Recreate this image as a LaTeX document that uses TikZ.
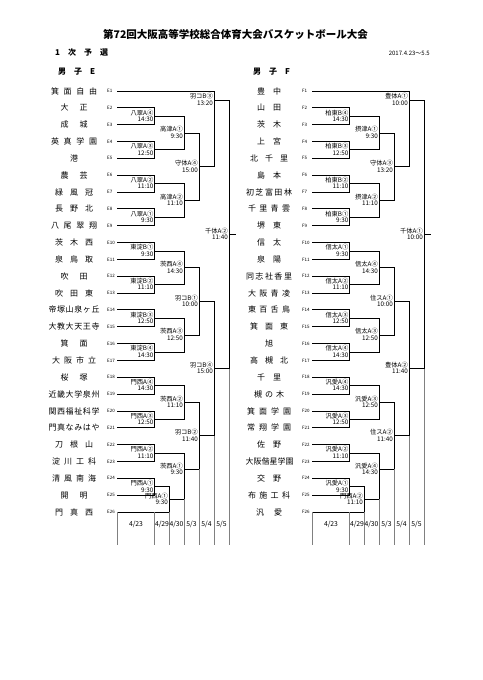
\documentclass[tikz,border=0pt]{standalone}
\usepackage{fontspec}
\setmainfont{Noto Sans CJK JP}
\usetikzlibrary{calc}
% spread the characters of a name over a fixed width
\def\spreadrest#1{\ifx#1\relax\else\hfil#1\expandafter\spreadrest\fi}
\def\spreadfirst#1{#1\spreadrest}
\newcommand\spread[2]{\makebox[#1][s]{\expandafter\spreadfirst#2\relax}}
\tikzset{
    team/.style={font=\fontsize{8}{9}\selectfont,inner sep=0pt},
    seed/.style={font=\fontsize{4.5}{5}\selectfont,inner sep=0pt,anchor=west},
    glabel/.style={font=\fontsize{6.3}{7}\selectfont,inner sep=0.5pt,anchor=south east},
    gtime/.style={font=\fontsize{6.3}{7}\selectfont,inner sep=0.5pt,anchor=north east},
    link/.style={line width=0.9pt},
    guide/.style={line width=0.6pt,black!50},
    day/.style={font=\fontsize{6.8}{7}\selectfont,inner sep=0pt},
    head/.style={font=\fontsize{8}{9}\selectfont\bfseries,inner sep=0pt,anchor=west}
}
% [out position]{in 1}{in 2}{column}{out}{venue}{time}
\newcommand\game[7][0.5]{%
    \draw[link] (#2) -- (#2 -| #4) -- (#3 -| #4) -- (#3);
    \coordinate (#5) at ($(#2 -| #4)!#1!(#3 -| #4)$);
    \node[glabel] (#5l) at ($(#5)+(-0.5,0)$) {#6};
    \node[gtime] (#5t) at ($(#5)+(-0.5,0)$) {#7};
}

\begin{document}
\begin{tikzpicture}[x=1pt,y=-1pt]
    \useasboundingbox (0,0) rectangle (482,680);
    \node[font=\fontsize{10.5}{12}\selectfont\bfseries,inner sep=0pt] (title) at (235.5,35) {第72回大阪高等学校総合体育大会バスケットボール大会};
    \node[head] (round) at (55,52) {1　次　予　選};
    \node[font=\fontsize{6}{7}\selectfont,inner sep=0pt,anchor=east] (period) at (430,53) {2017.4.23～5.5};
    \node[head] (groupE) at (58,72) {男　子　E};
    \node[head] (groupF) at (253,72) {男　子　F};

    % ---- group E
    \foreach \nm/\w [count=\i] in {箕面自由/46,大正/27,成城/27,英真学園/46,港/8,農芸/27,緑風冠/38,
        長野北/38,八尾翠翔/46,茨木西/38,泉鳥取/38,吹田/27,吹田東/38,帝塚山泉ヶ丘/51,大教大天王寺/51,
        箕面/27,大阪市立/44,桜塚/27,近畿大学泉州/51,関西福祉科学/51,門真なみはや/51,刀根山/38,
        淀川工科/44,清風南海/44,開明/27,門真西/38}{
        \pgfmathsetmacro\yy{91+(\i-1)*16.84}
        \node[team] (E\i n) at (74,\yy) {\spread{\w pt}{\nm}};
        \node[seed] (E\i s) at (107,\yy) {E\i};
        \coordinate (E\i) at (117,\yy);
    }
    \coordinate (Ec1) at (154.5,0);
    \coordinate (Ec2) at (169,0);
    \coordinate (Ec3) at (184,0);
    \coordinate (Ec4) at (199,0);
    \coordinate (Ec5) at (214,0);
    \coordinate (Ec6) at (229,0);
    \game{E2}{E3}{Ec1}{e23}{八翠A④}{14:30}
    \game{E4}{E5}{Ec1}{e45}{八翠A③}{12:50}
    \game{E6}{E7}{Ec1}{e67}{八翠A②}{11:10}
    \game{E8}{E9}{Ec1}{e89}{八翠A①}{9:30}
    \game{E10}{E11}{Ec1}{e1011}{東淀B①}{9:30}
    \game{E12}{E13}{Ec1}{e1213}{東淀B②}{11:10}
    \game{E14}{E15}{Ec1}{e1415}{東淀B③}{12:50}
    \game{E16}{E17}{Ec1}{e1617}{東淀B④}{14:30}
    \game{E18}{E19}{Ec1}{e1819}{門西A④}{14:30}
    \game{E20}{E21}{Ec1}{e2021}{門西A③}{12:50}
    \game{E22}{E23}{Ec1}{e2223}{門西A②}{11:10}
    \game{E24}{E25}{Ec1}{e2425}{門西A①}{9:30}
    \game{e2425}{E26}{Ec2}{e2426}{門西A①}{9:30}
    \game{e23}{e45}{Ec3}{e25}{高津A①}{9:30}
    \game{e67}{e89}{Ec3}{e69}{高津A②}{11:10}
    \game{e1011}{e1213}{Ec3}{e1013}{茨西A④}{14:30}
    \game{e1415}{e1617}{Ec3}{e1417}{茨西A③}{12:50}
    \game{e1819}{e2021}{Ec3}{e1821}{茨西A②}{11:10}
    \game[0.35]{e2223}{e2426}{Ec3}{e2226}{茨西A①}{9:30}
    \game{e25}{e69}{Ec4}{e29}{守体A④}{15:00}
    \game{e1013}{e1417}{Ec4}{e1017}{羽コB①}{10:00}
    \game{e1821}{e2226}{Ec4}{e1826}{羽コB②}{11:40}
    \game[0.12]{E1}{e29}{Ec5}{e19}{羽コB③}{13:20}
    \game{e1017}{e1826}{Ec5}{e1026}{羽コB④}{15:00}
    \game{e19}{e1026}{Ec6}{efin}{千体A②}{11:40}
    \coordinate (eend) at ($(efin)+(7,0)$);
    \draw[link] (efin) -- (eend);
    % day columns
    \coordinate (ebot) at (0,545);
    \draw[guide] (E26) -- (ebot -| E26);
    \draw[guide] (E26 -| Ec1) -- (ebot -| Ec1);
    \draw[guide] (E26 -| Ec2) -- (ebot -| Ec2);
    \draw[guide] (e2426 -| Ec3) -- (ebot -| Ec3);
    \draw[guide] (e2226 -| Ec4) -- (ebot -| Ec4);
    \draw[guide] (e1826 -| Ec5) -- (ebot -| Ec5);
    \draw[guide] (e1026 -| Ec6) -- (ebot -| Ec6);

    % ---- group F
    \begin{scope}[xshift=195]
    \foreach \nm/\w [count=\i] in {豊中/24,山田/24,茨木/24,上宮/24,北千里/38,島本/24,初芝富田林/46,
        千里青雲/42,堺東/24,信太/24,泉陽/24,同志社香里/46,大阪青凌/42,東百舌鳥/42,箕面東/38,旭/8,
        高槻北/38,千里/24,槻の木/30,箕面学園/44,常翔学園/44,佐野/24,大阪偕星学園/47,交野/24,
        布施工科/42,汎愛/26}{
        \pgfmathsetmacro\yy{91+(\i-1)*16.84}
        \node[team] (F\i n) at (74,\yy) {\spread{\w pt}{\nm}};
        \node[seed] (F\i s) at (107,\yy) {F\i};
        \coordinate (F\i) at (117,\yy);
    }
    \coordinate (Fc1) at (154.5,0);
    \coordinate (Fc2) at (169,0);
    \coordinate (Fc3) at (184,0);
    \coordinate (Fc4) at (199,0);
    \coordinate (Fc5) at (214,0);
    \coordinate (Fc6) at (229,0);
    \game{F2}{F3}{Fc1}{f23}{柏東B④}{14:30}
    \game{F4}{F5}{Fc1}{f45}{柏東B③}{12:50}
    \game{F6}{F7}{Fc1}{f67}{柏東B②}{11:10}
    \game{F8}{F9}{Fc1}{f89}{柏東B①}{9:30}
    \game{F10}{F11}{Fc1}{f1011}{信太A①}{9:30}
    \game{F12}{F13}{Fc1}{f1213}{信太A②}{11:10}
    \game{F14}{F15}{Fc1}{f1415}{信太A③}{12:50}
    \game{F16}{F17}{Fc1}{f1617}{信太A④}{14:30}
    \game{F18}{F19}{Fc1}{f1819}{汎愛A④}{14:30}
    \game{F20}{F21}{Fc1}{f2021}{汎愛A③}{12:50}
    \game{F22}{F23}{Fc1}{f2223}{汎愛A②}{11:10}
    \game{F24}{F25}{Fc1}{f2425}{汎愛A①}{9:30}
    \game{f2425}{F26}{Fc2}{f2426}{門西A②}{11:10}
    \game{f23}{f45}{Fc3}{f25}{摂津A①}{9:30}
    \game{f67}{f89}{Fc3}{f69}{摂津A②}{11:10}
    \game{f1011}{f1213}{Fc3}{f1013}{信太A④}{14:30}
    \game{f1415}{f1617}{Fc3}{f1417}{信太A③}{12:50}
    \game{f1819}{f2021}{Fc3}{f1821}{汎愛A③}{12:50}
    \game[0.35]{f2223}{f2426}{Fc3}{f2226}{汎愛A④}{14:30}
    \game{f25}{f69}{Fc4}{f29}{守体A③}{13:20}
    \game{f1013}{f1417}{Fc4}{f1017}{住スA①}{10:00}
    \game{f1821}{f2226}{Fc4}{f1826}{住スA②}{11:40}
    \game[0.12]{F1}{f29}{Fc5}{f19}{豊体A①}{10:00}
    \game{f1017}{f1826}{Fc5}{f1026}{豊体A②}{11:40}
    \game{f19}{f1026}{Fc6}{ffin}{千体A①}{10:00}
    \coordinate (fend) at ($(ffin)+(7,0)$);
    \draw[link] (ffin) -- (fend);
    % day columns
    \coordinate (fbot) at (0,545);
    \draw[guide] (F26) -- (fbot -| F26);
    \draw[guide] (F26 -| Fc1) -- (fbot -| Fc1);
    \draw[guide] (F26 -| Fc2) -- (fbot -| Fc2);
    \draw[guide] (f2426 -| Fc3) -- (fbot -| Fc3);
    \draw[guide] (f2226 -| Fc4) -- (fbot -| Fc4);
    \draw[guide] (f1826 -| Fc5) -- (fbot -| Fc5);
    \draw[guide] (f1026 -| Fc6) -- (fbot -| Fc6);
    \end{scope}

    % ---- days under both groups
    \foreach \dx/\sd in {0/e,195/f}{
        \begin{scope}[xshift=\dx]
        \node[day] (\sd d1) at (136,524) {4/23};
        \node[day] (\sd d2) at (162,524) {4/29};
        \node[day] (\sd d3) at (176.5,524) {4/30};
        \node[day] (\sd d4) at (191.5,524) {5/3};
        \node[day] (\sd d5) at (206.5,524) {5/4};
        \node[day] (\sd d6) at (221.5,524) {5/5};
        \end{scope}
    }
\end{tikzpicture}
\end{document}
